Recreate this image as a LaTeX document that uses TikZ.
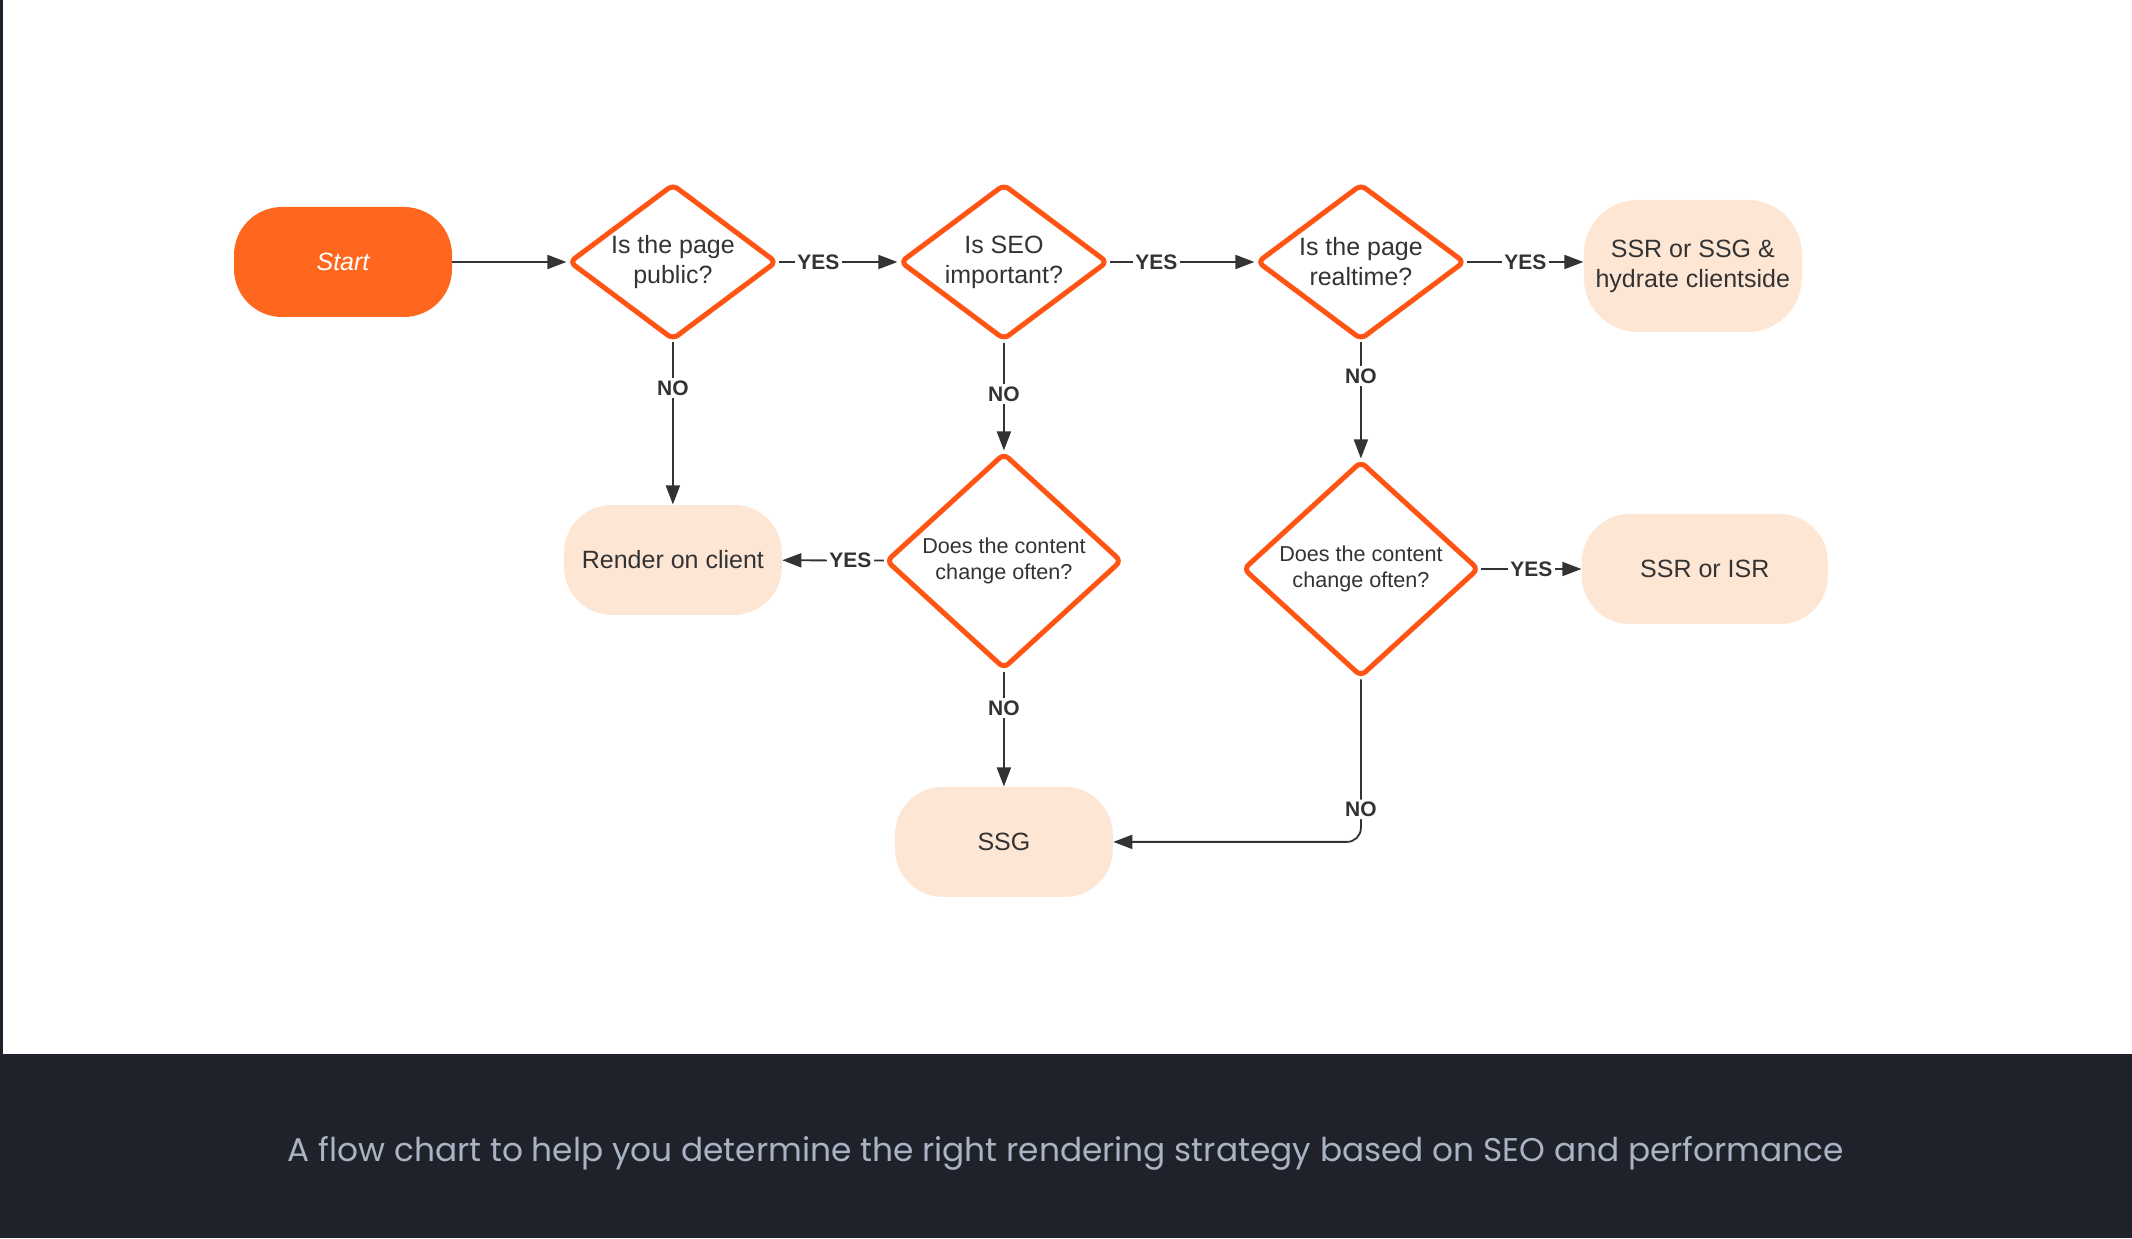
\documentclass[tikz,border=0pt]{standalone}
\usepackage{fontspec}
\setmainfont{Liberation Sans}
\newfontfamily\captionfont{Poppins}
\usetikzlibrary{arrows.meta, positioning, shapes.geometric}

\definecolor{startorange}{HTML}{FF671F}
\definecolor{edgeorange}{HTML}{FF5414}
\definecolor{peach}{HTML}{FEE6D5}
\definecolor{linegray}{HTML}{333333}
\definecolor{bandgray}{HTML}{1F222B}
\definecolor{captiongray}{HTML}{A9B3C3}

\begin{document}
\begin{tikzpicture}[
    x=1pt, y=1pt,
    term/.style={rectangle, rounded corners=24pt, minimum width=109pt,
                 minimum height=55pt, align=center, text=linegray,
                 font=\fontsize{12.5}{15}\selectfont, fill=peach},
    decision/.style={diamond, draw=edgeorange, line width=2.5pt, rounded corners=3pt,
                     fill=white, aspect=1.33, inner sep=0pt, minimum width=104pt,
                     minimum height=78pt, align=center, text=linegray,
                     font=\fontsize{12.5}{15}\selectfont},
    change/.style={decision, aspect=1.09, minimum width=118pt, minimum height=108pt,
                   font=\fontsize{10.8}{13}\selectfont},
    lbl/.style={fill=white, inner sep=1.2pt, text=linegray,
                font=\bfseries\fontsize{10.5}{12}\selectfont},
    arr/.style={-{Triangle[length=9.5pt, width=7pt]}, line width=0.9pt, draw=linegray}
]
\useasboundingbox (0,0) rectangle (1066,619);

% Caption band
\fill[bandgray] (0,0) rectangle (1066,92);
\fill[bandgray] (0,92) rectangle (1.5,619);
\node[text=captiongray, font=\captionfont\fontsize{16.4}{19}\selectfont] (caption) at (533,42.5)
    {A flow chart to help you determine the right rendering strategy based on SEO and performance};

% Top row
\node[term, fill=startorange, text=white, font=\itshape\fontsize{12.5}{15}\selectfont]
    (start) at (171.5,488) {Start};
\node[decision, right=57pt of start]  (public)   {Is the page\\public?};
\node[decision, right=59pt of public] (seo)      {Is SEO\\important?};
\node[decision, right=72pt of seo]    (realtime) {Is the page\\realtime?};
\node[term, right=58pt of realtime, minimum height=66pt, rounded corners=27pt, yshift=-2pt]
    (hydrate) {SSR or SSG \&\\hydrate clientside};

% Middle row
\node[term, below=81pt of public]     (client)   {Render on client};
\node[change, below=54pt of seo]      (often1)   {Does the content\\change often?};
\node[change, below=58pt of realtime] (often2)   {Does the content\\change often?};
\node[term, right=50pt of often2, minimum width=123pt] (isr) {SSR or ISR};

% Bottom row
\node[term, below=57.5pt of often1]   (ssg)      {SSG};

% Connectors
\draw[arr] (start)    -- (public);
\draw[arr] (public)   -- node[lbl, pos=0.33] {YES} (seo);
\draw[arr] (seo)      -- node[lbl, pos=0.32] {YES} (realtime);
\draw[arr] (realtime) -- node[lbl, pos=0.5]  {YES} (realtime -| hydrate.west);
\draw[arr] (public)   -- node[lbl, pos=0.28] {NO}  (client);
\draw[arr] (seo)      -- node[lbl, pos=0.48] {NO}  (often1);
\draw[arr] (realtime) -- node[lbl, pos=0.29] {NO}  (often2);
\draw[arr] (often1)   -- node[lbl, pos=0.33] {YES} (client);
\draw[arr] (often1)   -- node[lbl, pos=0.32] {NO}  (ssg);
\draw[arr] (often2)   -- node[lbl, pos=0.5]  {YES} (isr);
\draw[arr, rounded corners=7pt] (often2.south) |- node[lbl, pos=0.4] {NO} (ssg.east);
\end{tikzpicture}
\end{document}
